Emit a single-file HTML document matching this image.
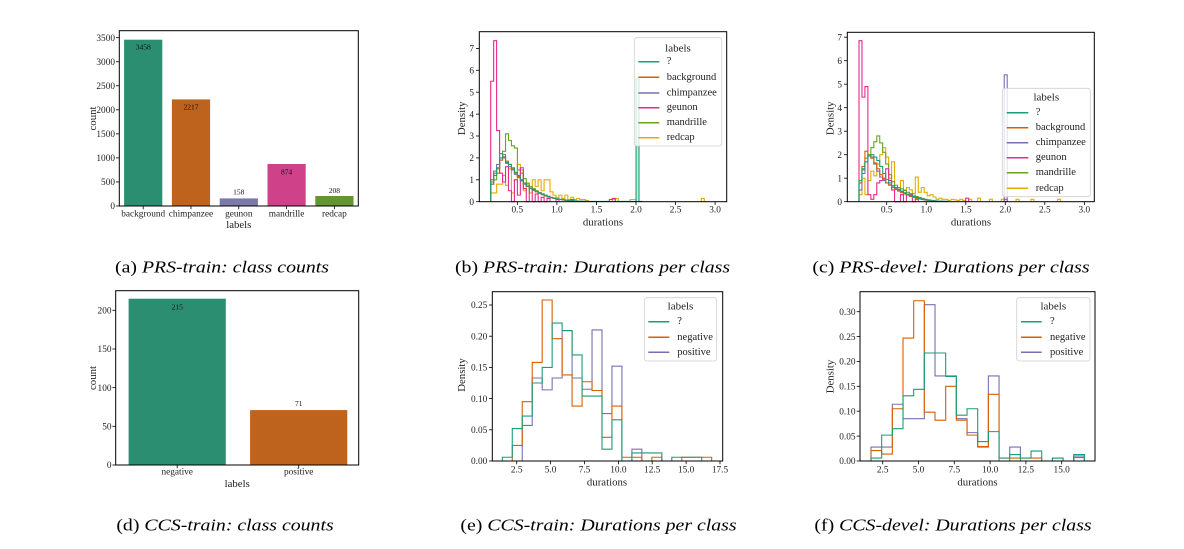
<!DOCTYPE html>
<html><head><meta charset="utf-8"><style>
html,body{margin:0;padding:0;background:#fff;}
svg{display:block;font-family:"Liberation Serif",serif;}
.tk{font-size:9.3px;fill:#222;}
.al{font-size:10.8px;fill:#222;}
.lg{font-size:10.5px;fill:#222;}
.lt{font-size:11px;fill:#222;}
.an{font-size:7.5px;fill:#111;}
.cap{font-size:17px;fill:#000;}
.h{fill:none;stroke-width:1.1;vector-effect:non-scaling-stroke;stroke-linejoin:miter;}
.sp{fill:none;stroke:#000;stroke-width:1;}
.t{stroke:#000;stroke-width:0.8;}
.leg{fill:#fff;fill-opacity:0.8;stroke:#cfcfcf;stroke-width:0.8;}
</style></head><body>
<svg width="1184" height="549" viewBox="0 0 1184 549" xmlns="http://www.w3.org/2000/svg">
<rect width="1184" height="549" fill="#fff"/>

<!-- ================= (a) ================= -->
<g>
<rect x="124.1" y="39.7" width="38.2" height="166.3" fill="#2b8e70"/>
<rect x="171.9" y="99.4" width="38.2" height="106.6" fill="#be631d"/>
<rect x="219.7" y="198.4" width="38.2" height="7.6" fill="#7c78aa"/>
<rect x="267.5" y="164" width="38.2" height="42" fill="#cf4189"/>
<rect x="315.3" y="196" width="38.2" height="10" fill="#659530"/>
<g class="an" text-anchor="middle">
<text x="143.2" y="49.5">3458</text>
<text x="191" y="109.5">2217</text>
<text x="238.8" y="194.5">158</text>
<text x="286.6" y="174.5">874</text>
<text x="334.4" y="192.8">208</text>
</g>
<rect class="sp" x="119.3" y="30.7" width="239" height="175.3"/>
<g class="t">
<line x1="116" y1="206" x2="119.3" y2="206"/><line x1="116" y1="181.96" x2="119.3" y2="181.96"/>
<line x1="116" y1="157.91" x2="119.3" y2="157.91"/><line x1="116" y1="133.87" x2="119.3" y2="133.87"/>
<line x1="116" y1="109.82" x2="119.3" y2="109.82"/><line x1="116" y1="85.78" x2="119.3" y2="85.78"/>
<line x1="116" y1="61.73" x2="119.3" y2="61.73"/><line x1="116" y1="37.69" x2="119.3" y2="37.69"/>
<line x1="143.2" y1="206" x2="143.2" y2="209.3"/><line x1="191" y1="206" x2="191" y2="209.3"/>
<line x1="238.8" y1="206" x2="238.8" y2="209.3"/><line x1="286.6" y1="206" x2="286.6" y2="209.3"/>
<line x1="334.4" y1="206" x2="334.4" y2="209.3"/>
</g>
<g class="tk" text-anchor="end">
<text x="115" y="209.2">0</text><text x="115" y="185.2">500</text><text x="115" y="161.1">1000</text>
<text x="115" y="137.1">1500</text><text x="115" y="113">2000</text><text x="115" y="89">2500</text>
<text x="115" y="64.9">3000</text><text x="115" y="40.9">3500</text>
</g>
<g class="tk" text-anchor="middle">
<text x="143.2" y="216.3">background</text><text x="191" y="216.3">chimpanzee</text>
<text x="238.8" y="216.3">geunon</text><text x="286.6" y="216.3">mandrille</text><text x="334.4" y="216.3">redcap</text>
</g>
<text class="al" x="238.8" y="228" text-anchor="middle">labels</text>
<text class="al" x="96" y="118.5" text-anchor="middle" transform="rotate(-90 96 118.5)">count</text>
</g>

<!-- ================= (b) ================= -->
<g>
<g transform="translate(490.7,201.7) scale(2.966,-21.9)">
<rect x="49" y="0" width="1" height="5.6" fill="#c5ecd9"/>
<path class="h" stroke="#e6ab02" d="M0 0V.4H2V.8H4V1.2H5V.75H6V1.5H7V.4H8V1H9V1.7H10V1.45H11V.5H12V.8H13V.4H14V1H15V.7H16V1H17V.5H18V1H20V.45H21V.3H22V.2H23V.3H24V.15H25V.3H26V.1H27V.2H28V.1H29V.15H30V.1H32V.05H33V0 M41 0V.1H42V.15H43V0 M47 0V.1H49V0 M71 0V.15H72V0"/>
<path class="h" stroke="#66a61e" d="M0 0V.8H1V1H2V1.3H3V1.9H4V2.3H5V3.1H6V2.8H7V2.55H8V2.45H9V1.45H10V1.3H11V1.05H12V.85H13V.7H14V.6H15V.5H16V.42H17V.36H18V.3H19V.25H20V.2H21V.16H22V.13H23V.1H24V.08H25V.06H26V.05H27V.04H28V.03H29V.02H30V0"/>
<path class="h" stroke="#e7298a" d="M0 0V5.5H1V7.35H2V3.25H3V1.3H4V.9H5V1.6H6V.5H7V0H8V1H9V.3H10V1.55H11V.6H12V0H13V.6H14V0H15V.35H16V0H17V.2H18V0H19V.15H20V0 M22 0V.1H23V0 M27 0V.1H28V0 M40 0V.1H41V.15H42V0"/>
<path class="h" stroke="#7570b3" d="M0 0V.8H1V1.4H2V1.7H3V2.2H4V2H5V1.75H6V1.6H7V1.45H8V1.25H9V1.1H10V.95H11V.8H12V.7H13V.6H14V.52H15V.45H16V.38H17V.32H18V.26H19V.22H20V.18H21V.15H22V.12H23V.1H24V.08H25V.06H26V.05H27V.04H28V.03H29V.025H30V.02H32V0"/>
<path class="h" stroke="#d95f02" d="M0 0V.9H1V1.3H2V1.5H3V1.9H4V2.05H5V1.85H6V1.7H7V1.5H8V1.3H9V1.15H10V1H11V.85H12V.7H13V.62H14V.55H15V.45H16V.4H17V.33H18V.27H19V.22H20V.18H21V.15H22V.12H23V.1H24V.08H25V.07H26V.05H27V.04H28V.03H30V.02H32V0"/>
<path class="h" stroke="#1b9e77" d="M0 0V1H1V1.2H2V1.55H3V2H4V2.15H5V1.8H6V1.7H7V1.55H8V1.35H9V1.2H10V1H11V.85H12V.72H13V.62H14V.55H15V.47H16V.4H17V.34H18V.28H19V.23H20V.19H21V.16H22V.13H23V.11H24V.09H25V.07H26V.06H27V.05H28V.04H29V.03H30V.025H31V.02H33V.015H34V.01H49V5.6H50V.01H51V0"/>
</g>
<rect class="leg" x="634.3" y="37.7" width="87.4" height="108.3" rx="2.5"/>
<text class="lt" x="678" y="48.3" text-anchor="middle" dominant-baseline="central">labels</text>
<g stroke-width="1.5">
<line x1="638.3" y1="61.7" x2="659.3" y2="61.7" stroke="#1b9e77"/>
<line x1="638.3" y1="77.3" x2="659.3" y2="77.3" stroke="#d95f02"/>
<line x1="638.3" y1="93" x2="659.3" y2="93" stroke="#7570b3"/>
<line x1="638.3" y1="107.7" x2="659.3" y2="107.7" stroke="#e7298a"/>
<line x1="638.3" y1="122.7" x2="659.3" y2="122.7" stroke="#66a61e"/>
<line x1="638.3" y1="137.7" x2="659.3" y2="137.7" stroke="#e6ab02"/>
</g>
<g class="lg" dominant-baseline="central">
<text x="666.7" y="61.7">?</text><text x="666.7" y="77.3">background</text>
<text x="666.7" y="93">chimpanzee</text><text x="666.7" y="107.7">geunon</text>
<text x="666.7" y="122.7">mandrille</text><text x="666.7" y="137.7">redcap</text>
</g>
<rect class="sp" x="479.3" y="31.7" width="247.4" height="170"/>
<g class="t">
<line x1="476" y1="201.7" x2="479.3" y2="201.7"/><line x1="476" y1="179.8" x2="479.3" y2="179.8"/>
<line x1="476" y1="157.9" x2="479.3" y2="157.9"/><line x1="476" y1="136" x2="479.3" y2="136"/>
<line x1="476" y1="114.1" x2="479.3" y2="114.1"/><line x1="476" y1="92.2" x2="479.3" y2="92.2"/>
<line x1="476" y1="70.3" x2="479.3" y2="70.3"/><line x1="476" y1="48.4" x2="479.3" y2="48.4"/>
<line x1="517.35" y1="201.7" x2="517.35" y2="205"/><line x1="556.9" y1="201.7" x2="556.9" y2="205"/>
<line x1="596.45" y1="201.7" x2="596.45" y2="205"/><line x1="636" y1="201.7" x2="636" y2="205"/>
<line x1="675.55" y1="201.7" x2="675.55" y2="205"/><line x1="715.1" y1="201.7" x2="715.1" y2="205"/>
</g>
<g class="tk" text-anchor="end">
<text x="474" y="204.9">0</text><text x="474" y="183">1</text><text x="474" y="161.1">2</text>
<text x="474" y="139.2">3</text><text x="474" y="117.3">4</text><text x="474" y="95.4">5</text>
<text x="474" y="73.5">6</text><text x="474" y="51.6">7</text>
</g>
<g class="tk" text-anchor="middle">
<text x="517.35" y="212.5">0.5</text><text x="556.9" y="212.5">1.0</text><text x="596.45" y="212.5">1.5</text>
<text x="636" y="212.5">2.0</text><text x="675.55" y="212.5">2.5</text><text x="715.1" y="212.5">3.0</text>
</g>
<text class="al" x="603" y="225.5" text-anchor="middle">durations</text>
<text class="al" x="465" y="118.3" text-anchor="middle" transform="rotate(-90 465 118.3)">Density</text>
</g>

<!-- ================= (c) ================= -->
<g>
<g transform="translate(859,201.7) scale(2.964,-23.5)">
<path class="h" stroke="#e6ab02" d="M0 0V.3H1V1H2V.3H3V.9H4V1.3H5V1.1H6V1.6H7V2H8V2.3H9V1.9H10V1H11V1.7H12V.6H14V.9H15V.5H16V.6H17V.5H18V.35H19V1.05H20V.4H21V.6H22V.4H23V.25H24V.3H25V.2H26V.1H27V.15H28V.1H30V.05H31V.1H32V.08H33V.05H34V.1H35V.05H36V0 M37 0V.1H38V0 M40 0V.15H41V0 M44 0V.1H45V0 M48 0V.1H49V0 M53 0V.1H54V0 M58 0V.1H59V0 M67 0V.1H68V0"/>
<path class="h" stroke="#66a61e" d="M0 0V.8H1V1.35H2V1.85H3V2H4V2.3H5V2.55H6V2.8H7V2.5H8V2.1H9V1.6H10V1.15H11V.85H12V.7H13V.6H14V.55H15V.48H16V.4H17V.34H18V.28H19V.22H20V.18H21V.14H22V.1H23V.08H24V.06H25V.04H26V.03H27V.02H28V0"/>
<path class="h" stroke="#e7298a" d="M0 0V6.85H1V4.45H2V4.9H3V.3H4V.1H5V.3H6V.8H7V.9H8V1H9V1.4H10V.9H11V.5H12V0H14V.3H15V0H16V.3H18V0H19V.1H20V0 M36 0V.15H37V0 M49 0V.1H50V0"/>
<path class="h" stroke="#7570b3" d="M0 0V.5H1V1.2H2V1.7H3V1.95H4V1.9H5V1.6H6V1.3H7V1.05H8V.9H9V.8H10V.72H11V.62H12V.55H13V.48H14V.41H15V.35H16V.29H17V.23H18V.19H19V.15H20V.12H21V.09H22V.07H23V.05H24V.04H25V.03H26V.02H28V0 M49 0V5.4H50V0"/>
<path class="h" stroke="#d95f02" d="M0 0V.8H1V1.5H2V2.15H3V1.95H4V1.85H5V1.65H6V1.4H7V1.15H8V.95H9V.8H10V.7H11V.6H12V.52H13V.45H14V.39H15V.33H16V.28H17V.23H18V.19H19V.15H20V.12H21V.1H22V.08H23V.06H24V.04H25V.03H26V.02H27V0"/>
<path class="h" stroke="#1b9e77" d="M0 0V.9H1V1.4H2V1.7H3V1.95H4V2H5V1.9H6V1.75H7V1.5H8V1.2H9V.95H10V.8H11V.68H12V.6H13V.52H14V.45H15V.38H16V.32H17V.27H18V.22H19V.18H20V.14H21V.11H22V.09H23V.07H24V.05H25V.04H26V.03H27V.025H28V.02H29V.015H30V0"/>
</g>
<rect class="leg" x="1002.3" y="88.3" width="88" height="108.4" rx="2.5"/>
<text class="lt" x="1046.3" y="97.7" text-anchor="middle" dominant-baseline="central">labels</text>
<g stroke-width="1.5">
<line x1="1006.7" y1="112.7" x2="1028.3" y2="112.7" stroke="#1b9e77"/>
<line x1="1006.7" y1="127.7" x2="1028.3" y2="127.7" stroke="#d95f02"/>
<line x1="1006.7" y1="142.7" x2="1028.3" y2="142.7" stroke="#7570b3"/>
<line x1="1006.7" y1="157.7" x2="1028.3" y2="157.7" stroke="#e7298a"/>
<line x1="1006.7" y1="172.7" x2="1028.3" y2="172.7" stroke="#66a61e"/>
<line x1="1006.7" y1="188.3" x2="1028.3" y2="188.3" stroke="#e6ab02"/>
</g>
<g class="lg" dominant-baseline="central">
<text x="1035.7" y="112.7">?</text><text x="1035.7" y="127.7">background</text>
<text x="1035.7" y="142.7">chimpanzee</text><text x="1035.7" y="157.7">geunon</text>
<text x="1035.7" y="172.7">mandrille</text><text x="1035.7" y="188.3">redcap</text>
</g>
<rect class="sp" x="847.3" y="32.3" width="247" height="169.4"/>
<g class="t">
<line x1="844" y1="201.7" x2="847.3" y2="201.7"/><line x1="844" y1="178.2" x2="847.3" y2="178.2"/>
<line x1="844" y1="154.7" x2="847.3" y2="154.7"/><line x1="844" y1="131.2" x2="847.3" y2="131.2"/>
<line x1="844" y1="107.7" x2="847.3" y2="107.7"/><line x1="844" y1="84.2" x2="847.3" y2="84.2"/>
<line x1="844" y1="60.7" x2="847.3" y2="60.7"/><line x1="844" y1="37.2" x2="847.3" y2="37.2"/>
<line x1="886.7" y1="201.7" x2="886.7" y2="205"/><line x1="926.25" y1="201.7" x2="926.25" y2="205"/>
<line x1="965.8" y1="201.7" x2="965.8" y2="205"/><line x1="1005.3" y1="201.7" x2="1005.3" y2="205"/>
<line x1="1044.8" y1="201.7" x2="1044.8" y2="205"/><line x1="1084.35" y1="201.7" x2="1084.35" y2="205"/>
</g>
<g class="tk" text-anchor="end">
<text x="842" y="204.9">0</text><text x="842" y="181.4">1</text><text x="842" y="157.9">2</text>
<text x="842" y="134.4">3</text><text x="842" y="110.9">4</text><text x="842" y="87.4">5</text>
<text x="842" y="63.9">6</text><text x="842" y="40.4">7</text>
</g>
<g class="tk" text-anchor="middle">
<text x="886.7" y="212.5">0.5</text><text x="926.25" y="212.5">1.0</text><text x="965.8" y="212.5">1.5</text>
<text x="1005.3" y="212.5">2.0</text><text x="1044.8" y="212.5">2.5</text><text x="1084.35" y="212.5">3.0</text>
</g>
<text class="al" x="971" y="225.5" text-anchor="middle">durations</text>
<text class="al" x="833.5" y="118.3" text-anchor="middle" transform="rotate(-90 833.5 118.3)">Density</text>
</g>

<!-- ================= (d) ================= -->
<g>
<rect x="128.6" y="298.7" width="97.2" height="166.3" fill="#2b8e70"/>
<rect x="250.1" y="410.1" width="97.2" height="54.9" fill="#be631d"/>
<g class="an" text-anchor="middle">
<text x="177.2" y="309.5">215</text>
<text x="298.7" y="406">71</text>
</g>
<rect class="sp" x="115.7" y="290.7" width="243" height="174.3"/>
<g class="t">
<line x1="112.4" y1="465" x2="115.7" y2="465"/><line x1="112.4" y1="426.3" x2="115.7" y2="426.3"/>
<line x1="112.4" y1="387.65" x2="115.7" y2="387.65"/><line x1="112.4" y1="349" x2="115.7" y2="349"/>
<line x1="112.4" y1="310.3" x2="115.7" y2="310.3"/>
<line x1="177.2" y1="465" x2="177.2" y2="468.3"/><line x1="298.7" y1="465" x2="298.7" y2="468.3"/>
</g>
<g class="tk" text-anchor="end">
<text x="111.5" y="468.2">0</text><text x="111.5" y="429.5">50</text><text x="111.5" y="390.9">100</text>
<text x="111.5" y="352.2">150</text><text x="111.5" y="313.5">200</text>
</g>
<g class="tk" text-anchor="middle">
<text x="177.2" y="474.5">negative</text><text x="298.7" y="474.5">positive</text>
</g>
<text class="al" x="237.2" y="487" text-anchor="middle">labels</text>
<text class="al" x="96" y="378" text-anchor="middle" transform="rotate(-90 96 378)">count</text>
</g>

<!-- ================= (e) ================= -->
<g>
<g transform="translate(502.3,461) scale(9.97,-624)">
<path class="h" stroke="#7570b3" d="M2 0V.057H3V.133H4V.114H5V.133H6V.209H7V.133H8V.115H9V.21H10V.076H11V.152H12V0H13V.019H14V0"/>
<path class="h" stroke="#d95f02" d="M1 0V.025H2V.095H3V.158H4V.258H5V.196H6V.138H7V.088H8V.127H9V.113H10V.038H11V.088H12V.006H14V0H15V.006H16V0H18V.006H21V0"/>
<path class="h" stroke="#1b9e77" d="M0 0V.006H1V.052H2V.072H3V.125H4V.15H5V.221H6V.209H7V.17H8V.104H10V.019H11V.066H12V0H13V.013H16V0H17V.006H20V0"/>
</g>
<rect class="leg" x="644.3" y="297.7" width="72.4" height="63.3" rx="2.5"/>
<text class="lt" x="680.5" y="306.7" text-anchor="middle" dominant-baseline="central">labels</text>
<g stroke-width="1.5">
<line x1="648.3" y1="321.7" x2="669.3" y2="321.7" stroke="#1b9e77"/>
<line x1="648.3" y1="337.3" x2="669.3" y2="337.3" stroke="#d95f02"/>
<line x1="648.3" y1="352.3" x2="669.3" y2="352.3" stroke="#7570b3"/>
</g>
<g class="lg" dominant-baseline="central">
<text x="677.3" y="321.7">?</text><text x="677.3" y="337.3">negative</text><text x="677.3" y="352.3">positive</text>
</g>
<rect class="sp" x="492.3" y="291.7" width="230.4" height="169.3"/>
<g class="t">
<line x1="489" y1="461" x2="492.3" y2="461"/><line x1="489" y1="429.8" x2="492.3" y2="429.8"/>
<line x1="489" y1="398.6" x2="492.3" y2="398.6"/><line x1="489" y1="367.4" x2="492.3" y2="367.4"/>
<line x1="489" y1="336.2" x2="492.3" y2="336.2"/><line x1="489" y1="305" x2="492.3" y2="305"/>
<line x1="516.7" y1="461" x2="516.7" y2="464.3"/><line x1="550.6" y1="461" x2="550.6" y2="464.3"/>
<line x1="584.5" y1="461" x2="584.5" y2="464.3"/><line x1="618.4" y1="461" x2="618.4" y2="464.3"/>
<line x1="652.2" y1="461" x2="652.2" y2="464.3"/><line x1="686.1" y1="461" x2="686.1" y2="464.3"/>
<line x1="720" y1="461" x2="720" y2="464.3"/>
</g>
<g class="tk" text-anchor="end">
<text x="487.3" y="464.2">0.00</text><text x="487.3" y="433">0.05</text><text x="487.3" y="401.8">0.10</text>
<text x="487.3" y="370.6">0.15</text><text x="487.3" y="339.4">0.20</text><text x="487.3" y="308.2">0.25</text>
</g>
<g class="tk" text-anchor="middle">
<text x="516.7" y="472.3">2.5</text><text x="550.6" y="472.3">5.0</text><text x="584.5" y="472.3">7.5</text>
<text x="618.4" y="472.3">10.0</text><text x="652.2" y="472.3">12.5</text><text x="686.1" y="472.3">15.0</text>
<text x="720" y="472.3">17.5</text>
</g>
<text class="al" x="607" y="485.5" text-anchor="middle">durations</text>
<text class="al" x="465" y="375" text-anchor="middle" transform="rotate(-90 465 375)">Density</text>
</g>

<!-- ================= (f) ================= -->
<g>
<g transform="translate(871,461) scale(10.67,-497.7)">
<path class="h" stroke="#7570b3" d="M0 0V.028H2V.114H3V.085H5V.314H6V.171H8V.085H9V.057H10V.028H11V.171H12V0H13V.028H14V0H17V.006H18V0H19V.01H20V0"/>
<path class="h" stroke="#d95f02" d="M0 0V.021H1V.014H2V.105H3V.247H4V.322H5V.098H6V.082H7V.15H8V.082H9V.052H10V.029H11V.134H12V.006H16V0H19V.007H20V0"/>
<path class="h" stroke="#1b9e77" d="M0 0V.006H1V.052H2V.065H3V.131H4V.144H5V.217H7V.17H8V.092H9V.105H10V.039H11V.059H12V.006H13V.013H14V.006H15V.02H16V0H17V.006H18V0H19V.013H20V0"/>
</g>
<rect class="leg" x="1016.7" y="297.7" width="73.3" height="63.3" rx="2.5"/>
<text class="lt" x="1053.3" y="306.7" text-anchor="middle" dominant-baseline="central">labels</text>
<g stroke-width="1.5">
<line x1="1021" y1="321.7" x2="1041.7" y2="321.7" stroke="#1b9e77"/>
<line x1="1021" y1="337.3" x2="1041.7" y2="337.3" stroke="#d95f02"/>
<line x1="1021" y1="352.3" x2="1041.7" y2="352.3" stroke="#7570b3"/>
</g>
<g class="lg" dominant-baseline="central">
<text x="1050" y="321.7">?</text><text x="1050" y="337.3">negative</text><text x="1050" y="352.3">positive</text>
</g>
<rect class="sp" x="860" y="291.7" width="235" height="169.3"/>
<g class="t">
<line x1="856.7" y1="461" x2="860" y2="461"/><line x1="856.7" y1="436.1" x2="860" y2="436.1"/>
<line x1="856.7" y1="411.2" x2="860" y2="411.2"/><line x1="856.7" y1="386.3" x2="860" y2="386.3"/>
<line x1="856.7" y1="361.5" x2="860" y2="361.5"/><line x1="856.7" y1="336.6" x2="860" y2="336.6"/>
<line x1="856.7" y1="311.7" x2="860" y2="311.7"/>
<line x1="882.7" y1="461" x2="882.7" y2="464.3"/><line x1="918.5" y1="461" x2="918.5" y2="464.3"/>
<line x1="954.3" y1="461" x2="954.3" y2="464.3"/><line x1="990.1" y1="461" x2="990.1" y2="464.3"/>
<line x1="1025.9" y1="461" x2="1025.9" y2="464.3"/><line x1="1061.7" y1="461" x2="1061.7" y2="464.3"/>
</g>
<g class="tk" text-anchor="end">
<text x="855.5" y="464.2">0.00</text><text x="855.5" y="439.3">0.05</text><text x="855.5" y="414.4">0.10</text>
<text x="855.5" y="389.5">0.15</text><text x="855.5" y="364.7">0.20</text><text x="855.5" y="339.8">0.25</text>
<text x="855.5" y="314.9">0.30</text>
</g>
<g class="tk" text-anchor="middle">
<text x="882.7" y="472.3">2.5</text><text x="918.5" y="472.3">5.0</text><text x="954.3" y="472.3">7.5</text>
<text x="990.1" y="472.3">10.0</text><text x="1025.9" y="472.3">12.5</text><text x="1061.7" y="472.3">15.0</text>
</g>
<text class="al" x="977.5" y="485.5" text-anchor="middle">durations</text>
<text class="al" x="833.5" y="376.5" text-anchor="middle" transform="rotate(-90 833.5 376.5)">Density</text>
</g>

<!-- ================= captions ================= -->
<g class="cap" text-anchor="middle">
<g transform="translate(222,272.5) scale(1.1656,1)"><text x="0" y="0">(a) <tspan font-style="italic">PRS-train: class counts</tspan></text></g>
<g transform="translate(592.5,272.5) scale(1.1656,1)"><text x="0" y="0">(b) <tspan font-style="italic">PRS-train: Durations per class</tspan></text></g>
<g transform="translate(951,272.5) scale(1.1656,1)"><text x="0" y="0">(c) <tspan font-style="italic">PRS-devel: Durations per class</tspan></text></g>
<g transform="translate(225,530.5) scale(1.1656,1)"><text x="0" y="0">(d) <tspan font-style="italic">CCS-train: class counts</tspan></text></g>
<g transform="translate(598.5,530.5) scale(1.1656,1)"><text x="0" y="0">(e) <tspan font-style="italic">CCS-train: Durations per class</tspan></text></g>
<g transform="translate(953,530.5) scale(1.1656,1)"><text x="0" y="0">(f) <tspan font-style="italic">CCS-devel: Durations per class</tspan></text></g>
</g>
</svg>
</body></html>
